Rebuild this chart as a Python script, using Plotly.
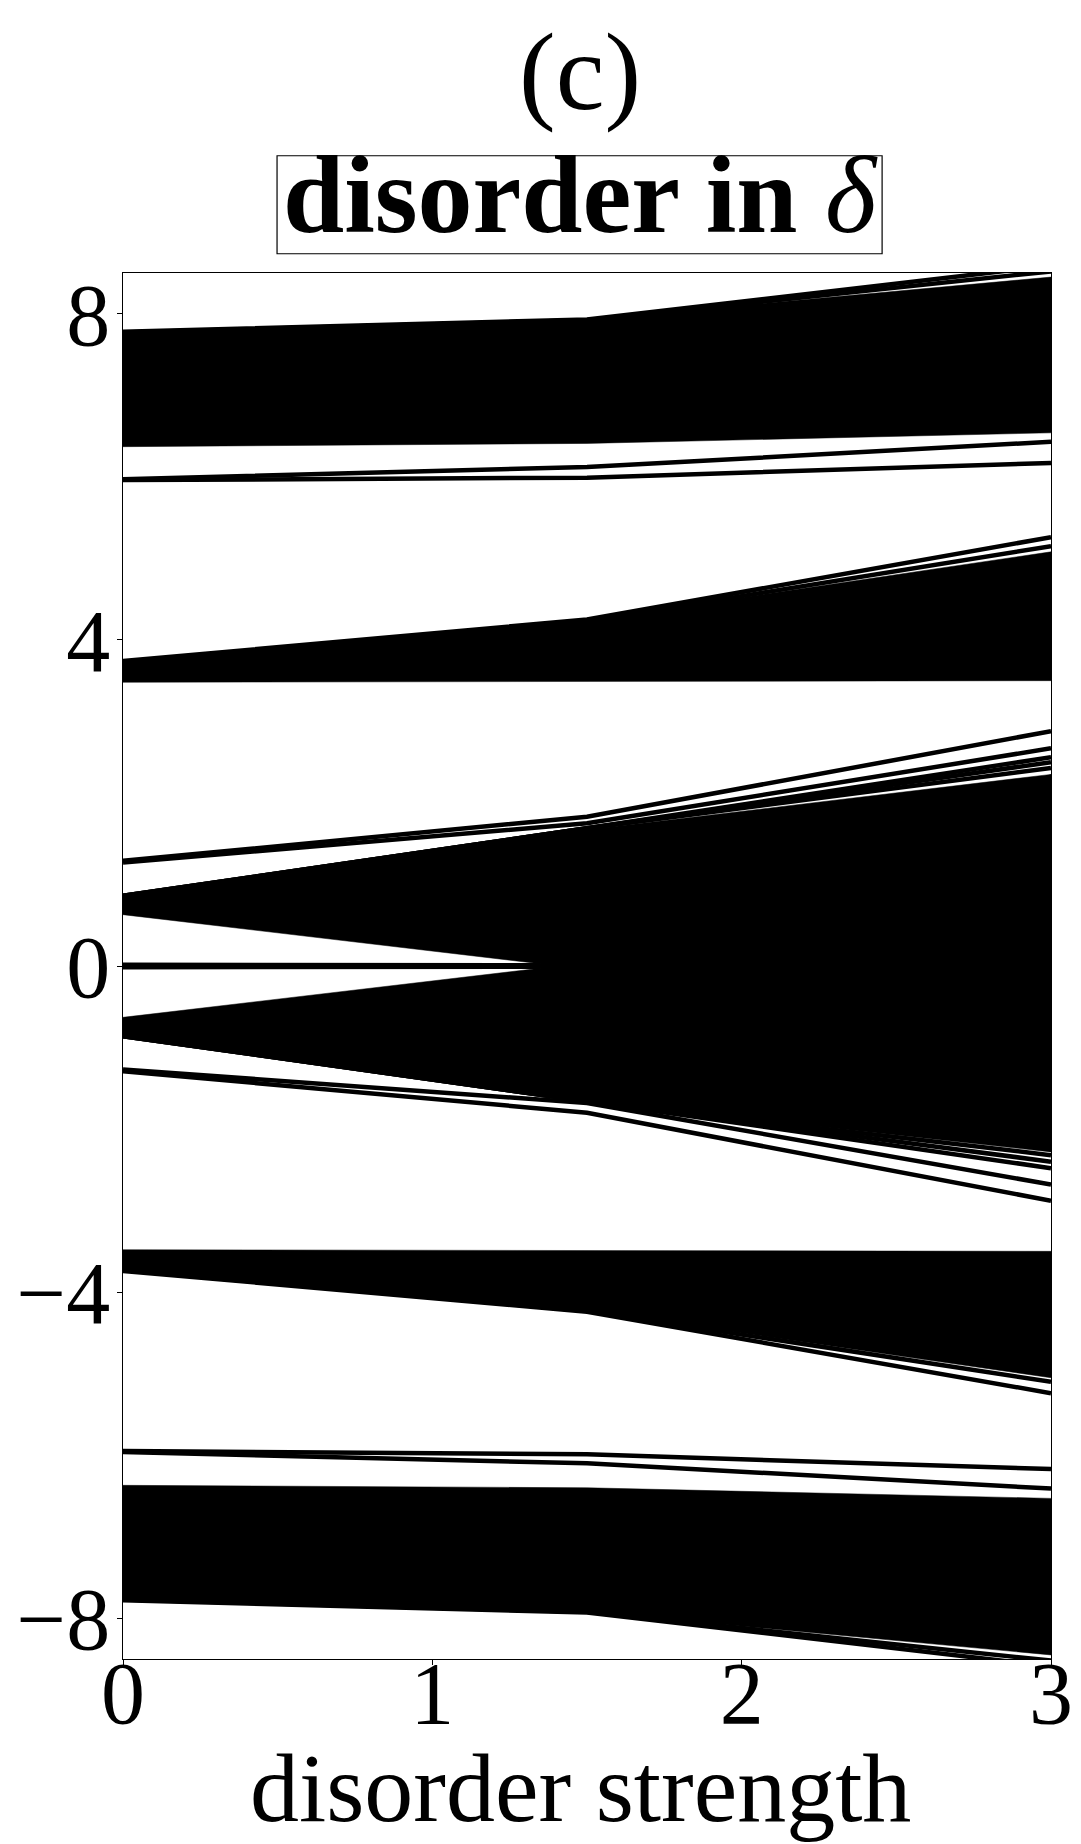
import plotly.graph_objects as go

# disorder strength samples
x_strength = [0.0, 1.5, 3.0]

# filled bands of eigenvalues: (lower edge, upper edge) at each disorder strength
band_top_lower = [6.37, 6.41, 6.54]
band_top_upper = [7.78, 7.93, 8.45]
band_up_lower = [3.48, 3.49, 3.50]
band_up_upper = [3.74, 4.24, 5.08]
lobe_up_lower = [0.63, -0.04, -2.28]
lobe_up_upper = [0.86, 1.67, 2.35]
lobe_dn_lower = [-0.86, -1.66, -2.28]
lobe_dn_upper = [-0.63, 0.04, 2.35]
band_dn_lower = [-3.74, -4.23, -5.05]
band_dn_upper = [-3.48, -3.49, -3.50]
band_bot_lower = [-7.78, -7.92, -8.45]
band_bot_upper = [-6.37, -6.40, -6.53]

bands = [
    (band_top_lower, band_top_upper),
    (band_up_lower, band_up_upper),
    (lobe_up_lower, lobe_up_upper),
    (lobe_dn_lower, lobe_dn_upper),
    (band_dn_lower, band_dn_upper),
    (band_bot_lower, band_bot_upper),
]

# individual eigenvalue lines (in-gap / edge states)
lines_top_edge = [[7.78, 7.93, 8.59], [7.77, 7.92, 8.52]]
lines_six = [[5.97, 6.12, 6.43], [5.96, 5.99, 6.17]]
lines_four = [[3.74, 4.25, 5.26], [3.73, 4.23, 5.15]]
lines_one = [[1.29, 1.83, 2.88], [1.27, 1.75, 2.67],
             [0.86, 1.69, 2.56], [0.86, 1.69, 2.50], [0.86, 1.69, 2.43]]
lines_zero = [[0.015, 0.01, 0.0], [-0.015, -0.01, 0.0]]
lines_m_one = [[-1.27, -1.68, -2.68], [-1.29, -1.80, -2.88],
               [-0.86, -1.66, -2.32], [-0.86, -1.66, -2.40], [-0.86, -1.66, -2.48]]
lines_m_four = [[-3.74, -4.24, -5.24], [-3.73, -4.23, -5.10]]
lines_m_six = [[-5.95, -5.99, -6.17], [-5.96, -6.10, -6.41]]
lines_bot_edge = [[-7.78, -7.93, -8.59], [-7.77, -7.92, -8.52]]

all_lines = (lines_top_edge + lines_six + lines_four + lines_one + lines_zero
             + lines_m_one + lines_m_four + lines_m_six + lines_bot_edge)

x_ticks = [0, 1, 2, 3]
y_ticks = [-8, -4, 0, 4, 8]

fig = go.Figure()

for lower, upper in bands:
    fig.add_trace(go.Scatter(x=x_strength, y=lower, mode="lines",
                             line=dict(color="black", width=0.5),
                             showlegend=False, hoverinfo="skip"))
    fig.add_trace(go.Scatter(x=x_strength, y=upper, mode="lines", fill="tonexty",
                             fillcolor="black",
                             line=dict(color="black", width=0.5),
                             showlegend=False, hoverinfo="skip"))

for yv in all_lines:
    fig.add_trace(go.Scatter(x=x_strength, y=yv, mode="lines",
                             line=dict(color="black", width=4.5),
                             showlegend=False, hoverinfo="skip"))

FONT = "Liberation Serif"

# page body adds an 8px offset; compensate so the plot area lands at x 123-1051, y 273-1659
fig.update_layout(
    width=1073, height=1836,
    margin=dict(l=115, r=30, t=265, b=185),
    paper_bgcolor="white", plot_bgcolor="white",
    font=dict(family=FONT, color="black"),
    showlegend=False,
)

fig.update_xaxes(
    range=[0, 3], tickvals=x_ticks, ticktext=[str(v) for v in x_ticks],
    showgrid=False, zeroline=False, automargin=False,
    showline=True, linecolor="black", linewidth=1.3, mirror=True,
    ticks="outside", ticklen=5, tickwidth=1, tickcolor="black",
    tickfont=dict(family=FONT, size=88), ticklabelstandoff=-48,
)
fig.update_yaxes(
    range=[-8.5, 8.5], tickvals=y_ticks,
    showgrid=False, zeroline=False, automargin=False,
    showline=True, linecolor="black", linewidth=1.3, mirror=True,
    ticks="outside", ticklen=5, tickwidth=1, tickcolor="black",
    tickfont=dict(family=FONT, size=88), ticklabelstandoff=-11,
)

# x-axis title
fig.add_annotation(text="disorder strength", xref="paper", yref="paper",
                   x=0.4925, y=-0.093, xanchor="center", yanchor="middle", showarrow=False,
                   font=dict(family=FONT, size=98, color="black"))

# panel label and boxed title
fig.add_annotation(text="(c)", xref="paper", yref="paper", x=0.4925, y=1.145,
                   xanchor="center", yanchor="middle", showarrow=False,
                   font=dict(family=FONT, size=110, color="black"))
fig.add_annotation(text="<b>disorder in</b> <i>δ</i>", xref="paper", yref="paper",
                   x=0.4925, y=1.056, xanchor="center", yanchor="middle", showarrow=False,
                   font=dict(family=FONT, size=110, color="black"))
fig.add_shape(type="rect", xref="paper", yref="paper",
              x0=0.166, x1=0.818, y0=1.0139, y1=1.0846,
              line=dict(color="black", width=1.2), fillcolor="rgba(0,0,0,0)")

fig.write_html("out.html")
